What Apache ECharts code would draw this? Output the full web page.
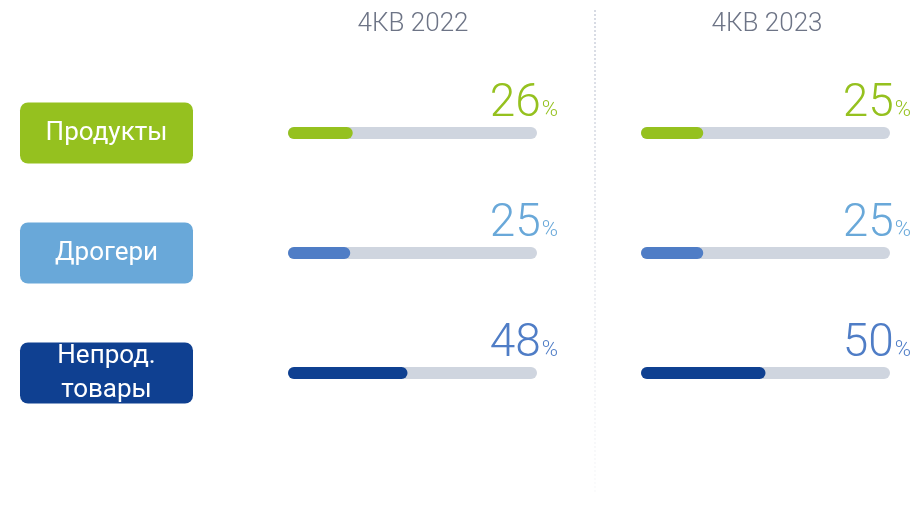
<!DOCTYPE html>
<html>
<head>
<meta charset="utf-8">
<script src="https://cdn.jsdelivr.net/npm/echarts@6/dist/echarts.min.js"></script>
<style>
  html, body { margin: 0; padding: 0; background: #fff; }
  #main { width: 922px; height: 512px; }
</style>
</head>
<body>
<div id="main"></div>
<script>
// данные
var categories = ['Продукты', 'Дрогери', 'Непрод.\nтовары'];
var periods = ['4КВ 2022', '4КВ 2023'];
var share2022 = [26, 25, 48];
var share2023 = [25, 25, 50];
var trackFull = [100, 100, 100];
var boxFull = [1, 1, 1];

var boxColors = ['#95c11f', '#69a8d9', '#0f4091'];
var fillColors = ['#95c11f', '#4f7dc6', '#0f4091'];
var pctColors = ['#95c11f', '#69a8d9', '#4f7dc6'];

var chart = echarts.init(document.getElementById('main'));
var font = 'Roboto, "Noto Sans", sans-serif';

function yCat(idx) {
  return { type: 'category', gridIndex: idx, data: categories, inverse: true, show: false };
}
function xVal(idx, max) {
  return { type: 'value', gridIndex: idx, min: 0, max: max, show: false };
}

// подписи процентов: крупное число + маленький знак %
function pctRich() {
  var rich = {};
  pctColors.forEach(function (c, i) {
    rich['n' + i] = { fontFamily: font, fontWeight: 300, fontSize: 46, color: c, verticalAlign: 'bottom' };
    rich['q' + i] = { fontFamily: font, fontWeight: 300, fontSize: 22, color: c, verticalAlign: 'bottom', padding: [0, 0, 6, 1] };
  });
  return rich;
}

function panelSeries(idx, values) {
  return [
    {
      type: 'bar', xAxisIndex: idx, yAxisIndex: idx,
      data: trackFull, barWidth: 12, silent: true,
      itemStyle: { color: '#cfd5df', borderRadius: 6 },
      label: {
        show: true, position: 'insideRight', distance: 0, offset: [21, -29],
        formatter: function (p) {
          var i = p.dataIndex;
          return '{n' + i + '|' + values[i] + '}{q' + i + '|%}';
        },
        rich: pctRich()
      },
      z: 2
    },
    {
      type: 'bar', xAxisIndex: idx, yAxisIndex: idx,
      data: values, barWidth: 12, barGap: '-100%', silent: true,
      itemStyle: {
        color: function (p) { return fillColors[p.dataIndex]; },
        borderRadius: 6
      },
      z: 3
    }
  ];
}

var option = {
  animation: false,
  backgroundColor: '#ffffff',
  title: [
    { text: periods[0], left: 408, top: 6, textAlign: 'center',
      textStyle: { fontFamily: font, fontWeight: 300, fontSize: 26, color: '#6d7486' } },
    { text: periods[1], left: 762, top: 6, textAlign: 'center',
      textStyle: { fontFamily: font, fontWeight: 300, fontSize: 26, color: '#6d7486' } }
  ],
  grid: [
    { left: 20, width: 173, top: 73, height: 360 },
    { left: 288, width: 249, top: 73, height: 360 },
    { left: 641, width: 249, top: 73, height: 360 }
  ],
  xAxis: [xVal(0, 1), xVal(1, 100), xVal(2, 100)],
  yAxis: [yCat(0), yCat(1), yCat(2)],
  graphic: [
    {
      type: 'line', silent: true,
      shape: { x1: 595, y1: 10, x2: 595, y2: 492 },
      style: {
        lineWidth: 1.5, lineDash: [2, 2],
        stroke: new echarts.graphic.LinearGradient(595, 10, 595, 492, [
          { offset: 0, color: '#c9ceda' },
          { offset: 1, color: 'rgba(201,206,218,0.1)' }
        ], true)
      }
    }
  ],
  series: [
    {
      type: 'bar', xAxisIndex: 0, yAxisIndex: 0,
      data: boxFull, barWidth: 61, silent: true,
      itemStyle: {
        color: function (p) { return boxColors[p.dataIndex]; },
        borderRadius: 8
      },
      label: {
        show: true, position: 'inside', color: '#ffffff',
        fontFamily: font, fontSize: 26, lineHeight: 34,
        formatter: function (p) { return categories[p.dataIndex]; }
      }
    }
  ].concat(panelSeries(1, share2022), panelSeries(2, share2023))
};

chart.setOption(option);
</script>
</body>
</html>
